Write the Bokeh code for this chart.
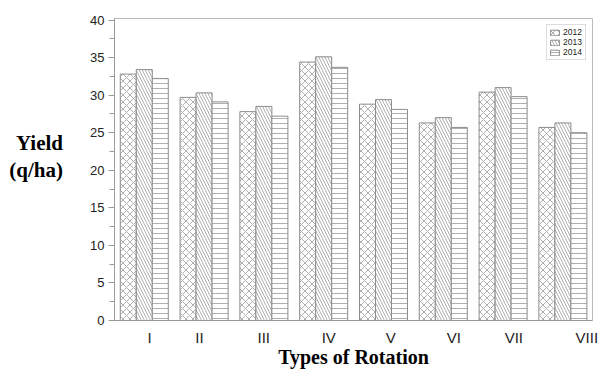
from bokeh.plotting import figure
from bokeh.models import (ColumnDataSource, Range1d, FixedTicker, SingleIntervalTicker,
                          Legend, LegendItem)
from bokeh.transform import dodge
from bokeh.embed import file_html
from bokeh.resources import INLINE

# ---- data ----
rotations = ["I", "II", "III", "IV", "V", "VI", "VII", "VIII"]
yield_2012 = [32.8, 29.7, 27.8, 34.4, 28.8, 26.3, 30.4, 25.7]
yield_2013 = [33.4, 30.3, 28.5, 35.1, 29.4, 27.0, 31.0, 26.3]
yield_2014 = [32.2, 29.1, 27.2, 33.7, 28.1, 25.7, 29.8, 25.0]
years = ["2012", "2013", "2014"]
# where the original places each rotation's label (in group units)
label_positions = [0.087, 0.923, 1.998, 3.085, 4.12, 5.177, 6.179, 7.40]

idx = list(range(len(rotations)))
source = ColumnDataSource(data=dict(x=idx, y2012=yield_2012, y2013=yield_2013, y2014=yield_2014))

p = figure(width=600, height=370, output_backend="svg", toolbar_location=None,
           x_range=Range1d(-0.498, 7.495), y_range=Range1d(0, 40.2),
           min_border_left=114, min_border_right=8, min_border_top=18, min_border_bottom=50)
p.background_fill_color = "white"
p.border_fill_color = "white"
p.outline_line_color = "#bbbbbb"
p.xgrid.visible = False
p.ygrid.visible = False

bw = 0.2676
hatches = ["diagonal_cross", "left_diagonal_line", "horizontal_line"]
scales = [7, 6, 5]
offsets = [-bw, 0, bw]
cols = ["y2012", "y2013", "y2014"]
items = []
for yr, col, h, sc, off in zip(years, cols, hatches, scales, offsets):
    r = p.vbar(x=dodge("x", off), top=col, width=bw, bottom=0, source=source,
               fill_color="white", line_color="#8c8c8c", line_width=1,
               hatch_pattern=h, hatch_color="#9a9a9a", hatch_scale=sc, hatch_weight=0.8)
    items.append(LegendItem(label=yr, renderers=[r]))

legend = Legend(items=items, location="top_right", margin=6, padding=2, spacing=0,
                glyph_width=11, glyph_height=7, label_height=8, label_standoff=3,
                label_text_font="Liberation Sans", label_text_font_size="8.5px",
                label_text_line_height=1.0,
                label_text_color="#222222", border_line_color="#bbbbbb",
                background_fill_alpha=1)
p.add_layout(legend)

title_font = "Liberation Serif"

# y axis
p.yaxis.ticker = SingleIntervalTicker(interval=5, num_minor_ticks=2)
p.yaxis.axis_line_color = "#999999"
p.yaxis.major_tick_line_color = "#999999"
p.yaxis.minor_tick_line_color = "#999999"
p.yaxis.major_tick_out = 6
p.yaxis.major_tick_in = 0
p.yaxis.minor_tick_out = 5
p.yaxis.minor_tick_in = 0
p.yaxis.major_label_standoff = 4
p.yaxis.major_label_text_font = "Liberation Sans"
p.yaxis.major_label_text_font_size = "13px"
p.yaxis.major_label_text_color = "#222222"
p.yaxis.axis_label = "Yield\n(q/ha)\n "
p.yaxis.axis_label_orientation = "horizontal"
p.yaxis.axis_label_standoff = 24
p.yaxis.axis_label_text_font = title_font
p.yaxis.axis_label_text_font_size = "21px"
p.yaxis.axis_label_text_font_style = "bold"
p.yaxis.axis_label_text_color = "black"
p.yaxis.axis_label_text_line_height = 1.1

# x axis
p.xaxis.ticker = FixedTicker(ticks=label_positions)
p.xaxis.major_label_overrides = {pos: lab for pos, lab in zip(label_positions, rotations)}
p.xaxis.axis_line_color = "#999999"
p.xaxis.major_tick_line_color = None
p.xaxis.minor_tick_line_color = None
p.xaxis.major_label_standoff = 2
p.xaxis.major_label_text_font = "Liberation Sans"
p.xaxis.major_label_text_font_size = "15px"
p.xaxis.major_label_text_line_height = 1.0
p.xaxis.major_label_text_color = "#222222"
p.xaxis.axis_label = "Types of Rotation"
p.xaxis.axis_label_standoff = -3
p.xaxis.axis_label_text_font = title_font
p.xaxis.axis_label_text_font_size = "20px"
p.xaxis.axis_label_text_font_style = "bold"
p.xaxis.axis_label_text_line_height = 1.0
p.xaxis.axis_label_text_color = "black"

open("out.html", "w").write(file_html(p, INLINE))
